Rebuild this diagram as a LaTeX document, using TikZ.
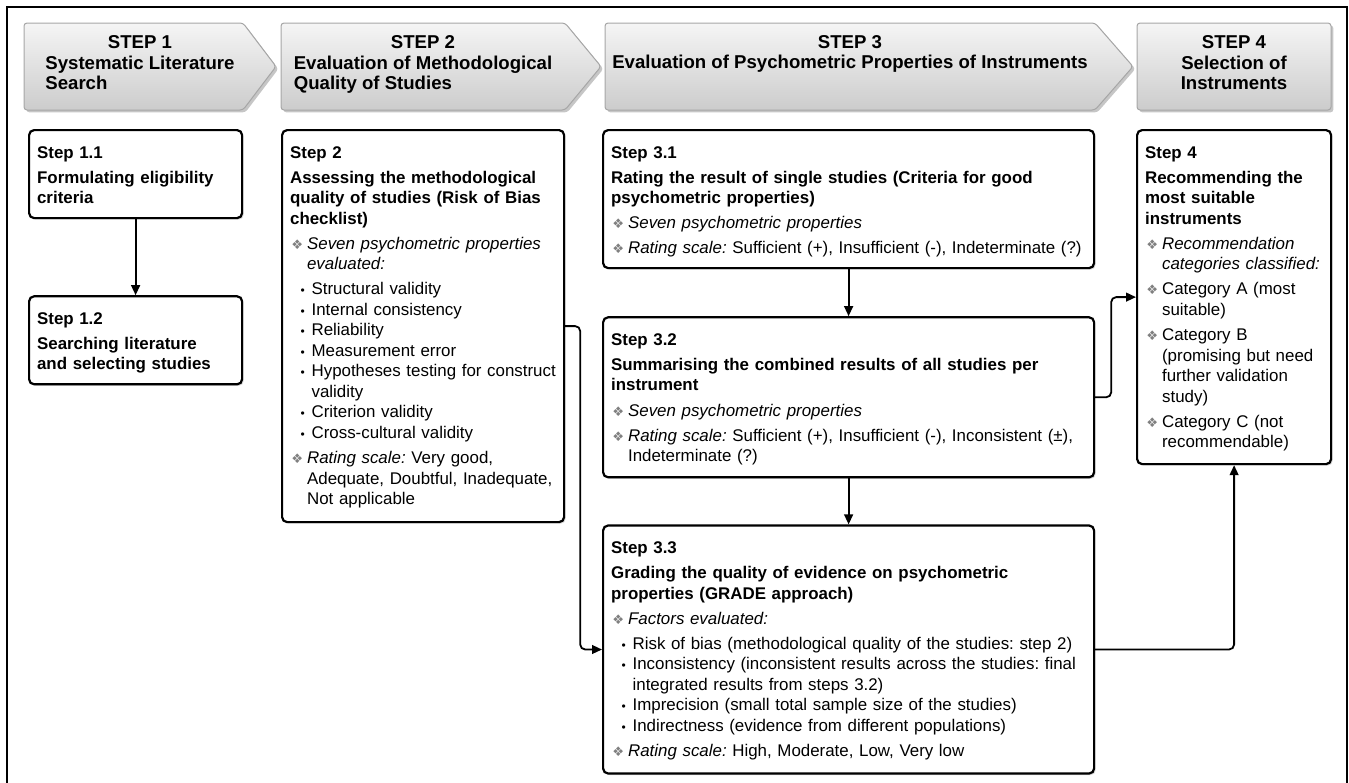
\documentclass[tikz,border=0pt]{standalone}
\usepackage{fontspec}
\setmainfont{Liberation Sans}
\newfontfamily\dvsans{DejaVu Sans}
\usetikzlibrary{positioning,shadows,arrows.meta}
\frenchspacing

\newcommand{\gap}{\par\vspace{2.3pt}}
\newcommand{\dia}{\makebox[8.5pt][l]{\hspace{0.6pt}\textcolor{black!50}{\dvsans\fontsize{6.6}{7}\selectfont ❖}}}
\newcommand{\bdot}{\makebox[10.75pt][l]{\hspace{5.3pt}{\fontsize{6}{6}\selectfont\textbullet}}}
\newcommand{\hangbox}[2]{\parbox[t]{\dimexpr\linewidth-#1\relax}{\raggedright#2\strut}\par\prevdepth=\dp\strutbox}
\newcommand{\ditem}[1]{\gap\noindent\dia\hangbox{8.5pt}{#1}}
\newcommand{\bulfirst}[1]{\gap\noindent\bdot\hangbox{10.75pt}{#1}}
\newcommand{\bul}[1]{\par\noindent\bdot\hangbox{10.75pt}{#1}}

\begin{document}
\begin{tikzpicture}[x=0.5pt,y=-0.5pt]
        \tikzstyle{stepbar} = [draw=black!35, line width=0.5pt, rounded corners=1.5pt, top color=black!4, bottom color=black!20, drop shadow={shadow xshift=1.2pt, shadow yshift=-1.2pt, opacity=0.45}]
        \tikzstyle{steptitle} = [inner sep=0pt, font=\fontsize{9.3}{10.25}\selectfont\bfseries]
        \tikzstyle{stepbox} = [draw, line width=1.1pt, rounded corners=2.5pt, fill=white, anchor=north west, inner xsep=4pt, inner ysep=0pt, text height=14pt, align=left, font=\fontsize{8.45}{10.25}\selectfont, drop shadow={shadow xshift=0.8pt, shadow yshift=-0.8pt, opacity=0.3}]
        \tikzstyle{conn} = [line width=0.9pt, rounded corners=2.5pt, -{Triangle[length=5pt,width=4.4pt]}]
        \useasboundingbox (0,0) rectangle (1349,782);
        \draw[line width=1.2pt] (7,790) -- (7,7) -- (1347,7) -- (1347,790);
        % header bar
        \foreach \l/\b/\t in {24/243/276, 281/565/601, 605/1095/1133}
            \draw[stepbar] (\l,23) -- (\b,23) -- (\t,66.5) -- (\b,110) -- (\l,110) -- cycle;
        \draw[stepbar] (1137,23) rectangle (1331,110);
        \node (head1) [steptitle] at (140,65) {\begin{tabular}{@{}l@{}}\multicolumn{1}{@{}c@{}}{STEP 1}\\Systematic Literature\\Search\end{tabular}};
        \node (head2) [steptitle] at (423,65) {\begin{tabular}{@{}l@{}}\multicolumn{1}{@{}c@{}}{STEP 2}\\Evaluation of Methodological\\Quality of Studies\end{tabular}};
        \node (head3) [steptitle] at (850,54.5) {\begin{tabular}{@{}c@{}}STEP 3\\Evaluation of Psychometric Properties of Instruments\end{tabular}};
        \node (head4) [steptitle] at (1234,65) {\begin{tabular}{@{}c@{}}STEP 4\\Selection of\\Instruments\end{tabular}};
        % boxes
        \node (step11) [stepbox, text width=98.5pt, text depth=30pt] at (28,129) {\textbf{Step 1.1}\gap\textbf{Formulating eligibility\newline criteria}};
        \node (step12) [stepbox, text width=98.5pt, text depth=30pt, below=38pt of step11] {\textbf{Step 1.2}\gap\textbf{Searching literature\newline and selecting studies}};
        \node (step2) [stepbox, text width=133pt, text depth=182pt] at (281,129) {\textbf{Step 2}\gap\textbf{Assessing the methodological\newline quality of studies (Risk of Bias\newline checklist)}%
            \ditem{\textit{Seven psychometric properties\\evaluated:}}%
            \bulfirst{Structural validity}\bul{Internal consistency}\bul{Reliability}\bul{Measurement error}\bul{Hypotheses testing for construct\\validity}\bul{Criterion validity}\bul{Cross-cultural validity}%
            \ditem{\textit{Rating scale:} Very good,\\Adequate, Doubtful, Inadequate,\\Not applicable}};
        \node (step31) [stepbox, text width=237.5pt, text depth=55pt] at (602,129) {\textbf{Step 3.1}\gap\textbf{Rating the result of single studies (Criteria for good\newline psychometric properties)}%
            \ditem{\textit{Seven psychometric properties}}%
            \ditem{\textit{Rating scale:} Sufficient (+), Insufficient (-), Indeterminate (?)}};
        \node (step32) [stepbox, text width=237.5pt, text depth=66pt, below=23.5pt of step31] {\textbf{Step 3.2}\gap\textbf{Summarising the combined results of all studies per\newline instrument}%
            \ditem{\textit{Seven psychometric properties}}%
            \ditem{\textit{Rating scale:} Sufficient (+), Insufficient (-), Inconsistent (±),\\Indeterminate (?)}};
        \node (step33) [stepbox, text width=237.5pt, text depth=110pt, below=23pt of step32] {\textbf{Step 3.3}\gap\textbf{Grading the quality of evidence on psychometric\newline properties (GRADE approach)}%
            \ditem{\textit{Factors evaluated:}}%
            \bulfirst{Risk of bias (methodological quality of the studies: step 2)}\bul{Inconsistency (inconsistent results across the studies: final\\integrated results from steps 3.2)}\bul{Imprecision (small total sample size of the studies)}\bul{Indirectness (evidence from different populations)}%
            \ditem{\textit{Rating scale:} High, Moderate, Low, Very low}};
        \node (step4) [stepbox, text width=89pt, text depth=153pt] at (1136,129) {\textbf{Step 4}\gap\textbf{Recommending the\newline most suitable\newline instruments}%
            \ditem{\textit{Recommendation\\categories classified:}}%
            \ditem{Category A (most\\suitable)}%
            \ditem{Category B\\(promising but need\\further validation\\study)}%
            \ditem{Category C (not\\recommendable)}};
        % connectors
        \draw[conn] (step11) -- (step12);
        \draw[conn] (step31) -- (step32);
        \draw[conn] (step32) -- (step33);
        \draw[conn] (step2.east) -- ++(15,0) |- (step33.west);
        \draw[conn] (step32.east) -- ++(16,0) |- (step4.west);
        \draw[conn] (step33.east) -| (step4.south);
\end{tikzpicture}
\end{document}
